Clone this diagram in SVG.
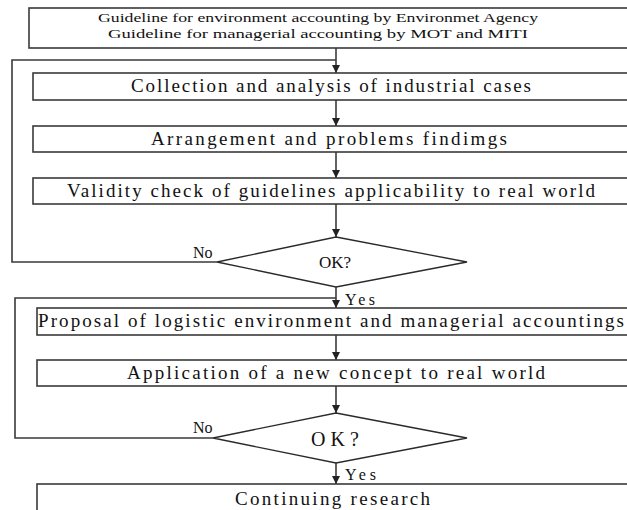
<svg xmlns="http://www.w3.org/2000/svg" width="627" height="510" viewBox="0 0 627 510">
  <style>
    .box { fill: #ffffff; stroke: #3a3a3a; stroke-width: 1.6; }
    .dia { fill: #ffffff; stroke: #2a2a2a; stroke-width: 1.3; }
    .wire { fill: none; stroke: #3a3a3a; stroke-width: 1.6; }
    .t { font-family: "Liberation Serif", "Times New Roman", serif; fill: #111; }
    .big { font-size: 19px; }
    .small { font-size: 13px; }
    .lbl { font-size: 16px; }
  </style>
  <defs>
    <marker id="arrow" viewBox="0 0 10 10" refX="10" refY="5" markerWidth="8" markerHeight="8" markerUnits="userSpaceOnUse" orient="auto">
      <path d="M0,0 L10,5 L0,10 z" fill="#222"/>
    </marker>
  </defs>
  <rect width="627" height="510" fill="#ffffff"/>

  <!-- connectors: two feedback loops plus the straight downward flow -->
  <g id="connectors">
    <path class="wire" d="M217,262 H12 V60 H336"/>
    <path class="wire" d="M213,438 H15 V298 H336"/>
    <line class="wire" x1="336" y1="48" x2="336" y2="73" marker-end="url(#arrow)"/>
    <line class="wire" x1="336" y1="100" x2="336" y2="126" marker-end="url(#arrow)"/>
    <line class="wire" x1="336" y1="152" x2="336" y2="178" marker-end="url(#arrow)"/>
    <line class="wire" x1="336" y1="204" x2="336" y2="237" marker-end="url(#arrow)"/>
    <line class="wire" x1="336" y1="287" x2="336" y2="308" marker-end="url(#arrow)"/>
    <line class="wire" x1="336" y1="335" x2="336" y2="360" marker-end="url(#arrow)"/>
    <line class="wire" x1="336" y1="386" x2="336" y2="413" marker-end="url(#arrow)"/>
    <line class="wire" x1="336" y1="463" x2="336" y2="484" marker-end="url(#arrow)"/>
    <text class="t lbl" x="193" y="258">No</text>
    <text class="t lbl" x="345" y="305" textLength="30" lengthAdjust="spacing">Yes</text>
    <text class="t lbl" x="193" y="433">No</text>
    <text class="t lbl" x="345" y="480" textLength="31" lengthAdjust="spacing">Yes</text>
  </g>

  <g id="guidelines">
    <rect class="box" x="29" y="8" width="620" height="40"/>
    <text class="t small" x="98" y="22" textLength="440" lengthAdjust="spacingAndGlyphs">Guideline for environment accounting by Environmet Agency</text>
    <text class="t small" x="108" y="38" textLength="420" lengthAdjust="spacingAndGlyphs">Guideline for managerial accounting by MOT and MITI</text>
  </g>

  <g id="collection">
    <rect class="box" x="33" y="73" width="620" height="27"/>
    <text class="t big" x="131" y="92" textLength="400" lengthAdjust="spacing">Collection and analysis of industrial cases</text>
  </g>

  <g id="arrangement">
    <rect class="box" x="33" y="126" width="620" height="26"/>
    <text class="t big" x="151" y="145" textLength="356" lengthAdjust="spacing">Arrangement and problems findimgs</text>
  </g>

  <g id="validity">
    <rect class="box" x="33" y="178" width="620" height="26"/>
    <text class="t big" x="67" y="197" textLength="528" lengthAdjust="spacing">Validity check of guidelines applicability to real world</text>
  </g>

  <g id="check1">
    <polygon class="dia" points="336,237 467,262 336,287 217,262"/>
    <text class="t" x="335" y="268" font-size="17" text-anchor="middle">OK?</text>
  </g>

  <g id="proposal">
    <rect class="box" x="37" y="308" width="620" height="27"/>
    <text class="t big" x="38" y="327" textLength="586" lengthAdjust="spacing">Proposal of logistic environment and managerial accountings</text>
  </g>

  <g id="application">
    <rect class="box" x="37" y="360" width="620" height="26"/>
    <text class="t big" x="127" y="379" textLength="418" lengthAdjust="spacing">Application of a new concept to real world</text>
  </g>

  <g id="check2">
    <polygon class="dia" points="336,413 467,438 336,463 213,438"/>
    <text class="t" x="311" y="446" font-size="20" textLength="48" lengthAdjust="spacing">OK?</text>
  </g>

  <g id="continuing">
    <rect class="box" x="37" y="484" width="620" height="40"/>
    <text class="t big" x="235" y="505" textLength="195" lengthAdjust="spacing">Continuing research</text>
  </g>
</svg>
